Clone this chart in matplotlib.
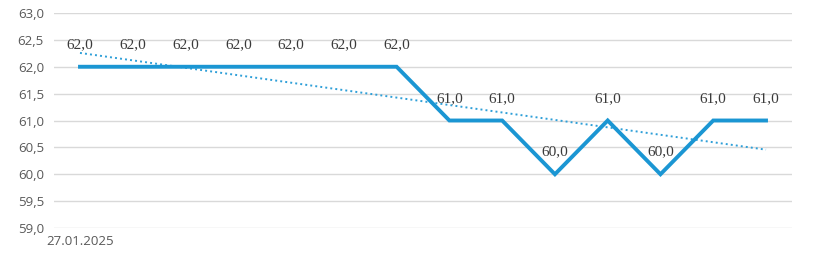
import matplotlib
matplotlib.use("Agg")
import matplotlib.pyplot as plt
import numpy as np

# data
dates = ["27.01.2025"] + [""] * 13
values = [62.0, 62.0, 62.0, 62.0, 62.0, 62.0, 62.0, 61.0, 61.0, 60.0, 61.0, 60.0, 61.0, 61.0]
y_ticks = [59.0, 59.5, 60.0, 60.5, 61.0, 61.5, 62.0, 62.5, 63.0]

LINE_COLOR = "#1b96d3"
TREND_COLOR = "#2e9fd8"
GRID_COLOR = "#d9d9d9"
TICK_COLOR = "#595959"
LABEL_COLOR = "#3a3a3a"

W, H = 815, 271
fig = plt.figure(figsize=(W / 100, H / 100), dpi=100)
ax = fig.add_axes([53.6 / W, 1 - 228 / H, (792.4 - 53.6) / W, (228 - 13) / H])

x = np.arange(len(values))
ax.plot(x, values, color=LINE_COLOR, lw=2.8, solid_joinstyle="miter", zorder=3)

# linear trendline (Excel style)
k, b = np.polyfit(x, values, 1)
ax.plot(x, k * x + b, color=TREND_COLOR, lw=1.4, linestyle=(0, (1, 1.6)), zorder=2)

for xi, v in zip(x, values):
    ax.annotate(f"{v:.1f}".replace(".", ","), (xi, v), xytext=(0, 16),
                textcoords="offset points", ha="center", va="center",
                fontsize=11, color=LABEL_COLOR, family="Liberation Serif")

ax.set_xlim(-0.5, len(values) - 0.5)
ax.set_ylim(59.0, 63.0)
ax.set_yticks(y_ticks)
ax.set_yticklabels([f"{t:.1f}".replace(".", ",") for t in y_ticks],
                   fontsize=9.5, color=TICK_COLOR, family="Open Sans")
ax.set_xticks(x)
ax.set_xticklabels(dates, fontsize=9.5, color=TICK_COLOR, family="Open Sans")
ax.tick_params(length=0, axis="y", pad=7)
ax.tick_params(length=0, axis="x", pad=5)
ax.grid(axis="y", color=GRID_COLOR, lw=1)
ax.set_axisbelow(True)
for s in ax.spines.values():
    s.set_visible(False)

fig.savefig("out.png", dpi=100)
